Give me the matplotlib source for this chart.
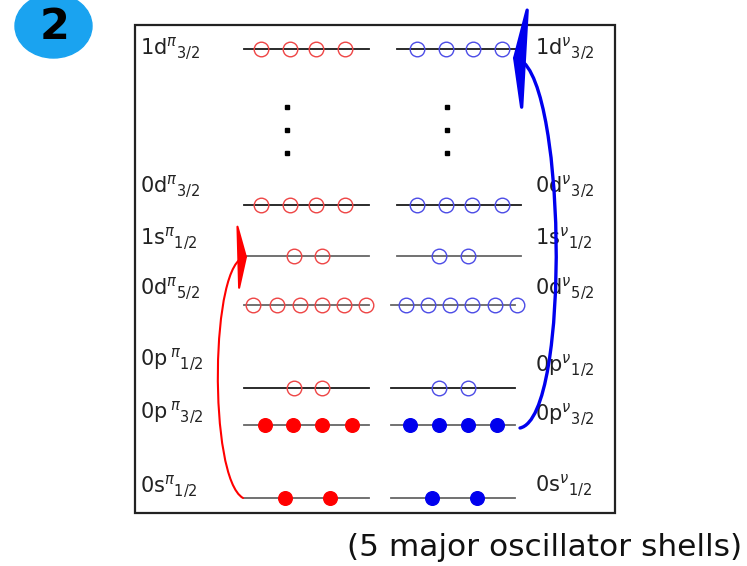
import matplotlib
matplotlib.use("Agg")
import matplotlib.pyplot as plt
from matplotlib.patches import Rectangle, Ellipse, FancyArrowPatch, ArrowStyle
from matplotlib.path import Path

plt.rcParams['mathtext.fontset'] = 'dejavusans'

# ---- data ----
orbital_names = ["1d", "0d", "1s", "0d", "0p", "0p", "0s"]
j_values = ["3/2", "3/2", "1/2", "5/2", "1/2", "3/2", "1/2"]
level_y = [49, 205, 256, 305, 388, 425, 498]
occupied = [False, False, False, False, False, True, True]
proton_x = [[261, 290, 316, 345], [261, 290, 316, 345], [294, 322],
            [253, 277, 300, 322, 344, 366], [294, 322],
            [265, 293, 322, 352], [285, 330]]
neutron_x = [[417, 446, 473, 502], [417, 446, 472, 502], [439, 468],
             [406, 428, 450, 472, 495, 517], [439, 468],
             [410, 439, 468, 497], [432, 477]]
left_label_y = [55, 193, 245, 295, 366, 419, 493]
right_label_y = [55, 193, 245, 295, 372, 421, 492]
neutron_line_shift = [6, 6, 6, 0, 0, 0, 0]
line_dark = [True, True, False, False, True, False, False]
dots_y = [107, 130, 153]
caption = "(5 major oscillator shells)"
badge = "2"

# ---- figure ----
fig = plt.figure(figsize=(7.47, 5.66), dpi=100)
ax = fig.add_axes([0, 0, 1, 1])
ax.set_xlim(0, 747)
ax.set_ylim(566, 0)
ax.axis('off')

# badge
ax.add_patch(Ellipse((53.5, 26), 77, 64, color='#1aa3f0', zorder=1))
ax.text(55, 27, badge, ha='center', va='center', fontsize=31,
        fontweight='bold', color='black', zorder=2)

# frame
ax.add_patch(Rectangle((135, 25), 480, 488, fill=False, ec='#222222', lw=1.6))

p_x0, p_x1 = 244, 369
n_x0, n_x1 = 391, 515

red_open = '#ee4444'
blue_open = '#4b4be6'
red_fill = '#ff0000'
blue_fill = '#0000ee'

for i, y in enumerate(level_y):
    lc = '#1a1a1a' if line_dark[i] else '#666666'
    ax.plot([p_x0, p_x1], [y, y], color=lc, lw=1.3, zorder=2)
    s = neutron_line_shift[i]
    ax.plot([n_x0 + s, n_x1 + s], [y, y], color=lc, lw=1.3, zorder=2)
    if occupied[i]:
        ax.plot(proton_x[i], [y] * len(proton_x[i]), 'o', ms=9.8,
                color=red_fill, zorder=3)
        ax.plot(neutron_x[i], [y] * len(neutron_x[i]), 'o', ms=9.8,
                color=blue_fill, zorder=3)
    else:
        ax.plot(proton_x[i], [y] * len(proton_x[i]), 'o', ms=10.5,
                mfc='none', mec=red_open, mew=1.0, zorder=3)
        ax.plot(neutron_x[i], [y] * len(neutron_x[i]), 'o', ms=10.5,
                mfc='none', mec=blue_open, mew=1.0, zorder=3)
    sp = r"\," if orbital_names[i].endswith("p") else ""
    ax.text(140, left_label_y[i],
            orbital_names[i] + r"$" + sp + r"^{\pi}{}_{" + j_values[i] + r"}$",
            fontsize=15, color='#222222', ha='left', va='baseline', zorder=4)
    ax.text(535, right_label_y[i],
            orbital_names[i] + r"$^{\nu}{}_{" + j_values[i] + r"}$",
            fontsize=15, color='#222222', ha='left', va='baseline', zorder=4)

# vertical dots
ax.plot([287] * len(dots_y), dots_y, 's', ms=2.6, color='black')
ax.plot([447] * len(dots_y), dots_y, 's', ms=2.6, color='black')

# red arrow: 0s -> 1s (proton)
ys, ye = level_y[6], level_y[2]
red_path = Path([(p_x0 - 1, ys), (p_x0 - 36, ys - 20), (p_x0 - 34, ye + 2),
                 (p_x0 + 3, ye + 1)],
                [Path.MOVETO, Path.CURVE4, Path.CURVE4, Path.CURVE4])
ax.add_patch(FancyArrowPatch(path=red_path,
                             arrowstyle=ArrowStyle("-|>", head_length=0.55,
                                                   head_width=2.2),
                             mutation_scale=10, color='#ff0000', lw=1.5,
                             zorder=5, transform=ax.transData))

# blue arrow: 0p3/2 -> 1d3/2 (neutron)
ys, ye = level_y[5], level_y[0]
bx = n_x1 + 5
blue_path = Path([(bx, ys + 3), (bx + 52, ys - 8), (bx + 46, ye + 12),
                  (bx - 7, ye + 9)],
                 [Path.MOVETO, Path.CURVE4, Path.CURVE4, Path.CURVE4])
ax.add_patch(FancyArrowPatch(path=blue_path,
                             arrowstyle=ArrowStyle("-|>", head_length=0.7,
                                                   head_width=3.5),
                             mutation_scale=10, color='#0000ee', lw=2.4,
                             zorder=5, transform=ax.transData))

# caption
ax.text(545, 548, caption, ha='center', va='center', fontsize=22.5,
        color='#111111')

fig.savefig("out.png", dpi=100)
